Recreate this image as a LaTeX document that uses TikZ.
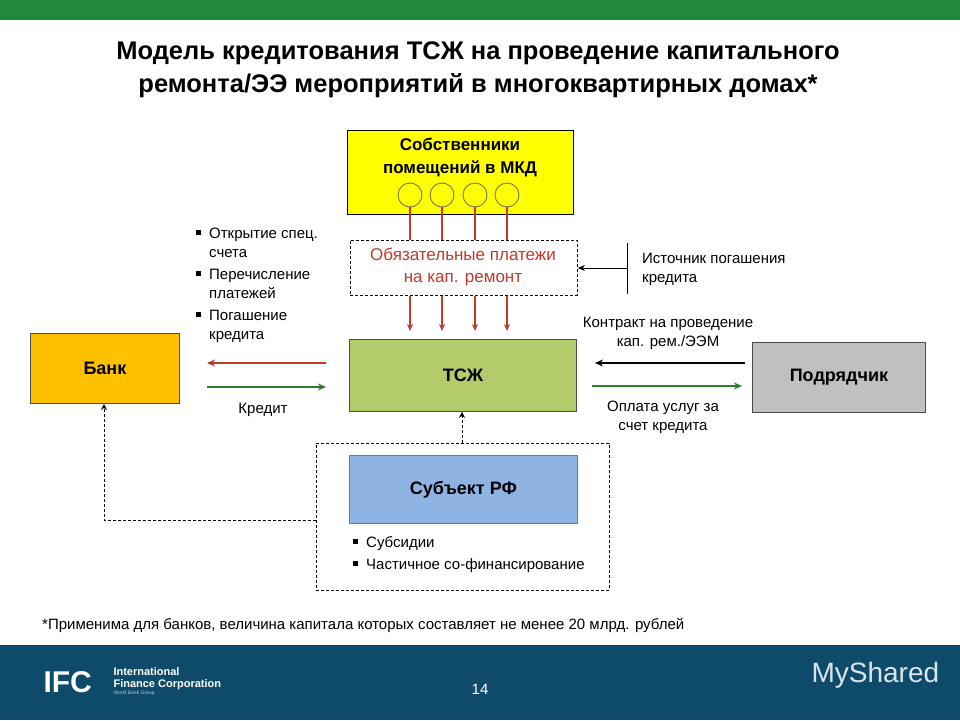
\documentclass[tikz,border=0pt]{standalone}
\usepackage{fontspec}
\setmainfont{Liberation Sans}
\usetikzlibrary{arrows.meta}
\definecolor{topgreen}{HTML}{23883A}
\definecolor{footblue}{HTML}{0E4B6A}
\definecolor{owny}{HTML}{FFFF00}
\definecolor{tszh}{HTML}{B3CB6B}
\definecolor{bank}{HTML}{FFC000}
\definecolor{podr}{HTML}{C0C0C0}
\definecolor{subj}{HTML}{8EB4E3}
\definecolor{subjb}{HTML}{5A7FB0}
\definecolor{redl}{HTML}{C0392B}
\definecolor{grn}{HTML}{2E7D32}
\tikzset{
 box/.style={draw=black!70,line width=0.9pt,minimum width=#1,font=\bfseries\fontsize{18}{20}\selectfont,align=center,inner sep=0},
 lbl/.style={font=\fontsize{15}{19}\selectfont,align=left,inner sep=0},
 lblc/.style={font=\fontsize{15}{19}\selectfont,align=center,inner sep=0},
 arr/.style={-{Stealth[length=8pt,width=7pt]},line width=1.8pt},
 tip/.style={-{Stealth[length=7pt,width=6pt]},line width=0.9pt},
 dsh/.style={densely dashed,line width=0.9pt},
 circ/.style={circle,draw=black!60!yellow,minimum size=24pt,inner sep=0,line width=0.9pt}
}
\begin{document}
\begin{tikzpicture}[x=1pt,y=-1pt]
\useasboundingbox (0,0) rectangle (960,720);
\fill[white] (0,0) rectangle (960,720);
\fill[topgreen] (0,0) rectangle (960,20);
\fill[footblue] (0,645) rectangle (960,720);
\node[font=\bfseries\fontsize{25.5}{33}\selectfont,align=center] (title) at (478,70) {Модель кредитования ТСЖ на проведение капитального\\ремонта/ЭЭ мероприятий в многоквартирных домах*};
% owners
\node[box=226pt,minimum height=84pt,fill=owny,anchor=north west,draw=black] (own) at (347,130) {};
\node[font=\bfseries\fontsize{17}{23}\selectfont,align=center] (ownt) at (460,157) {Собственники\\помещений в МКД};
\foreach \i/\x in {1/410,2/442,3/475,4/507}{
 \node[circ] (c\i) at (\x,195) {};
}
\node[draw=black,dsh,minimum width=227pt,minimum height=55pt,anchor=north west,inner sep=0] (pay) at (350,240) {};
\node[font=\fontsize{17}{22}\selectfont,align=center,text=redl] (payt) at (463,267) {Обязательные платежи\\на кап. ремонт};
\node[box=227pt,minimum height=72pt,fill=tszh,anchor=north west] (tszh) at (349,339) {ТСЖ};
\foreach \i/\x in {1/410,2/442,3/475,4/507}{
 \coordinate (t\i) at (\x,240);
 \coordinate (b\i) at (\x,296);
 \coordinate (e\i) at (\x,331);
 \draw[redl,line width=1.1pt] (c\i.south) -- (t\i);
 \draw[redl,line width=1.1pt,-{Stealth[length=7pt,width=6pt]}] (b\i) -- (e\i);
}
\node[box=149pt,minimum height=70pt,fill=bank,anchor=north west] (bank) at (30,333) {Банк};
\node[box=173pt,minimum height=70pt,fill=podr,anchor=north west] (podr) at (752,342) {Подрядчик};
% bank arrows
\coordinate (r1) at (326,363); \coordinate (r2) at (207,363);
\draw[arr,redl] (r1) -- (r2);
\coordinate (g1) at (207,387); \coordinate (g2) at (326,387);
\draw[arr,grn] (g1) -- (g2);
\node[lblc] (kred) at (263,410) {Кредит};
\node[lbl,anchor=north west] (bl) at (196,225) {%
\begin{tabular}{@{}l@{\hspace{8pt}}l@{}}
\rule[4pt]{5pt}{5pt} & Открытие спец.\\ & счета\\[3pt]
\rule[4pt]{5pt}{5pt} & Перечисление\\ & платежей\\[3pt]
\rule[4pt]{5pt}{5pt} & Погашение\\ & кредита
\end{tabular}};
% source
\coordinate (v1) at (627,243); \coordinate (v2) at (627,294);
\draw[line width=0.9pt] (v1) -- (v2);
\coordinate (s1) at (627,268);
\draw[tip] (s1) -- (pay.east |- s1);
\node[lbl,anchor=west] (src) at (642,269) {Источник погашения\\кредита};
% contractor arrows
\node[lblc] (contr) at (668,333) {Контракт на проведение\\кап. рем./ЭЭМ};
\coordinate (k1) at (745,363); \coordinate (k2) at (595,363);
\draw[arr,black] (k1) -- (k2);
\coordinate (o1) at (592,386); \coordinate (o2) at (742,386);
\draw[arr,grn] (o1) -- (o2);
\node[lblc] (opl) at (663,417) {Оплата услуг за\\счет кредита};
% subject
\node[draw=black,dsh,minimum width=293pt,minimum height=147pt,anchor=north west,inner sep=0] (sd) at (316,443) {};
\node[box=228pt,minimum height=68pt,fill=subj,draw=subjb,anchor=north west] (subj) at (349,455) {Субъект РФ};
\coordinate (sdt) at (462,443);
\draw[dsh,-{Stealth[length=6pt,width=6pt]}] (sdt) -- (tszh.south -| sdt);
\coordinate (sl) at (316,520); \coordinate (bk) at (104,520);
\draw[dsh,-{Stealth[length=6pt,width=6pt]}] (sl) -- (bk) -- (bank.south -| bk);
\node[lbl,anchor=north west] (sub) at (353,534) {%
\begin{tabular}{@{}l@{\hspace{8pt}}l@{}}
\rule[4pt]{5pt}{5pt} & Субсидии\\[3pt]
\rule[4pt]{5pt}{5pt} & Частичное со-финансирование
\end{tabular}};
\node[lbl,anchor=west] (foot) at (42,625) {*Применима для банков, величина капитала которых составляет не менее 20 млрд. рублей};
% footer
\node[text=white,font=\bfseries\fontsize{30}{30}\selectfont,anchor=west] (ifc) at (40,682) {IFC};
\node[text=white,font=\bfseries\fontsize{11}{12}\selectfont,align=left,anchor=west] (ifct) at (110,679) {International\\Finance Corporation};
\node[text=white!70!footblue,font=\fontsize{5}{6}\selectfont,anchor=west] (wbg) at (110,693) {World Bank Group};
\node[text=white,font=\fontsize{15}{17}\selectfont] (pg) at (480,689) {14};
\node[text=white!85!footblue,font=\fontsize{28}{30}\selectfont,anchor=west] (ms) at (808,675) {MyShared};
\end{tikzpicture}
\end{document}
